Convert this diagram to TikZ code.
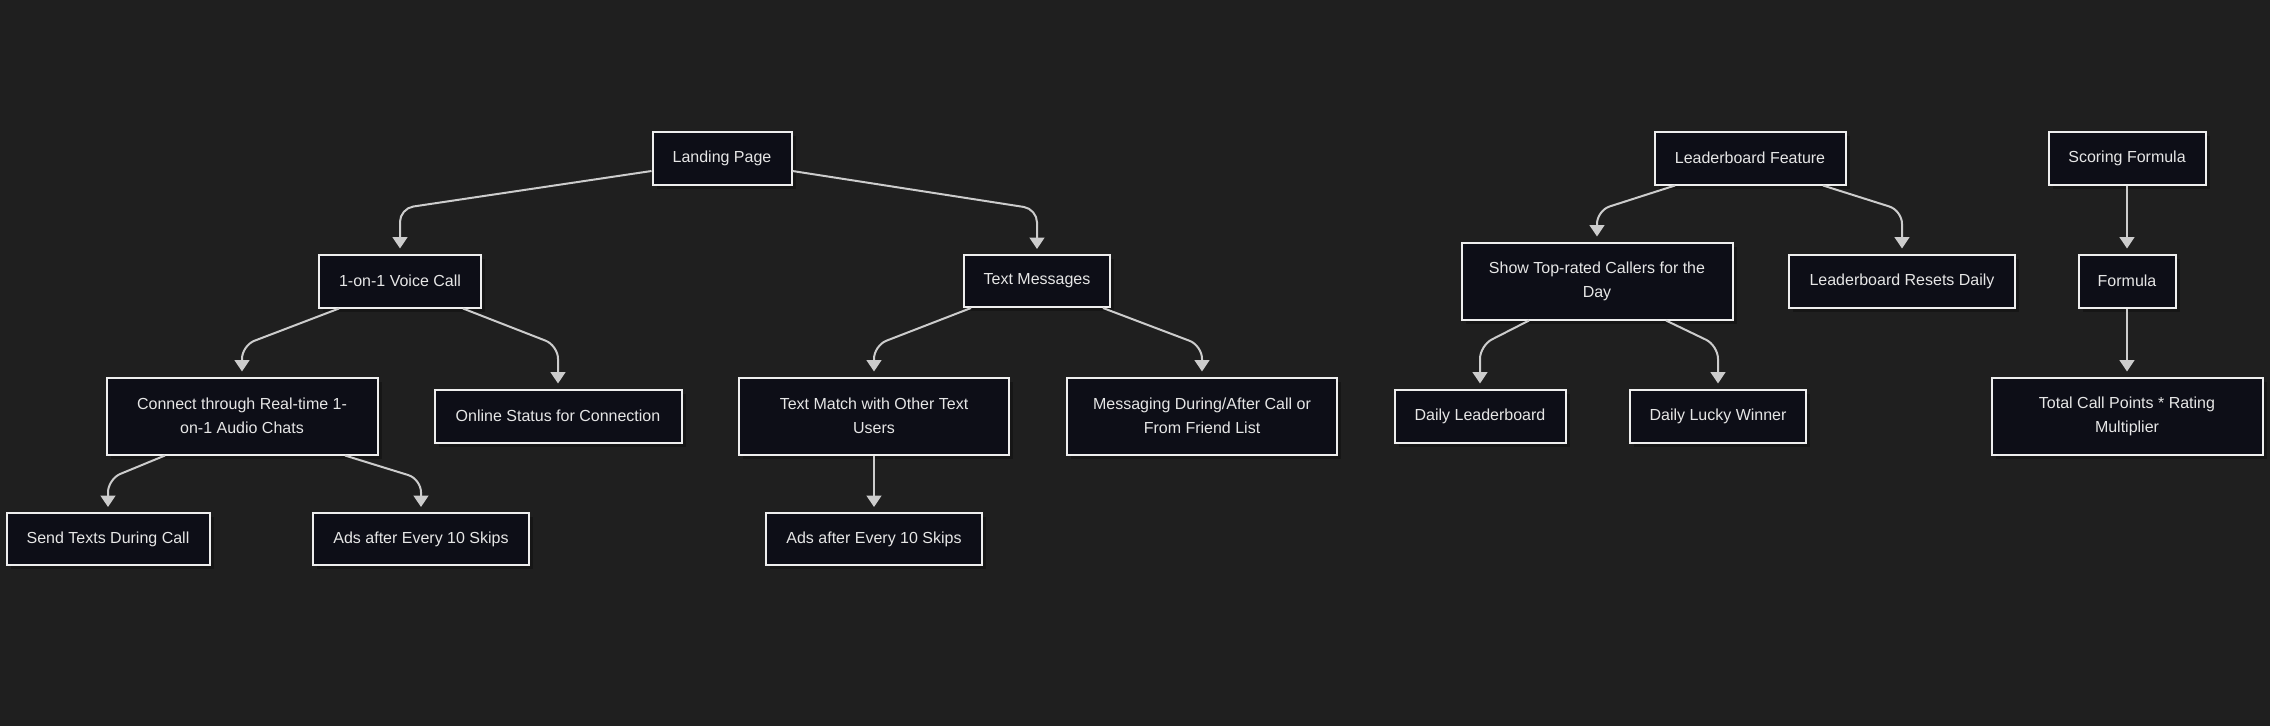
\documentclass[tikz,border=0pt]{standalone}
\usepackage{fontspec}
\setmainfont{Liberation Sans}
\usetikzlibrary{calc,arrows.meta,shadows}
\definecolor{bgc}{HTML}{1F1F1F}
\definecolor{nodefill}{HTML}{0D0E17}
\definecolor{nodeborder}{HTML}{EEEEEE}
\definecolor{edgec}{HTML}{CCCCCC}
\definecolor{textc}{HTML}{E6E6E6}
\definecolor{shadowc}{HTML}{161616}
\tikzset{
  box/.style={draw=nodeborder, fill=nodefill, line width=1.5pt, text=textc,
    align=center, inner sep=0pt, font=\fontsize{12}{18}\selectfont,
    drop shadow={fill=shadowc, opacity=1, shadow xshift=3pt, shadow yshift=-3pt}},
  wh/.style 2 args={minimum width={#1*0.75pt}, minimum height={#2*0.75pt}},
  edge/.style={draw=edgec, line width=1.5pt, rounded corners=10pt,
    -{Triangle[length=8.5pt,width=11pt]}}
}
\begin{document}
\begin{tikzpicture}[x=0.75pt,y=-0.75pt]
\fill[bgc] (0,0) rectangle (2270,726);
\useasboundingbox (0,0) rectangle (2270,726);
% nodes
\node[box, wh={139}{53}] (lp) at (722,158) {Landing Page};
\node[box, wh={162}{53}] (voice) at (400,281) {1-on-1 Voice Call};
\node[box, wh={271}{77}] (connect) at (242,416) {Connect through Real-time 1-\\on-1 Audio Chats};
\node[box, wh={247}{53}] (online) at (558,416) {Online Status for Connection};
\node[box, wh={203}{52}] (send) at (108,539) {Send Texts During Call};
\node[box, wh={216}{52}] (ads1) at (421,539) {Ads after Every 10 Skips};
\node[box, wh={146}{52}] (textm) at (1037,281) {Text Messages};
\node[box, wh={270}{77}] (match) at (874,416) {Text Match with Other Text\\Users};
\node[box, wh={270}{77}] (msg) at (1202,416) {Messaging During/After Call or\\From Friend List};
\node[box, wh={216}{52}] (ads2) at (874,539) {Ads after Every 10 Skips};
\node[box, wh={191}{53}] (lf) at (1750,158) {Leaderboard Feature};
\node[box, wh={157}{53}] (score) at (2127,158) {Scoring Formula};
\node[box, wh={271}{77}] (show) at (1597,281) {Show Top-rated Callers for the\\Day};
\node[box, wh={226}{53}] (resets) at (1902,281) {Leaderboard Resets Daily};
\node[box, wh={97}{53}] (formula) at (2127,281) {Formula};
\node[box, wh={171}{53}] (dlb) at (1480,416) {Daily Leaderboard};
\node[box, wh={176}{53}] (lucky) at (1718,416) {Daily Lucky Winner};
\node[box, wh={271}{77}] (total) at (2127,416) {Total Call Points * Rating\\Multiplier};
% edges
\draw[edge] ($(lp.west)+(0,13)$) -- ($(voice.north)+(0,-45)$) -- ($(voice.north)+(0,-5)$);
\draw[edge] ($(lp.east)+(0,13)$) -- ($(textm.north)+(0,-45)$) -- ($(textm.north)+(0,-5)$);
\draw[edge] ($(voice.south)+(-61,0)$) -- ($(connect.north)+(0,-31)$) -- ($(connect.north)+(0,-5)$);
\draw[edge] ($(voice.south)+(63,0)$) -- ($(online.north)+(0,-43)$) -- ($(online.north)+(0,-5)$);
\draw[edge] ($(connect.south)+(-77,0)$) -- ($(send.north)+(0,-33)$) -- ($(send.north)+(0,-5)$);
\draw[edge] ($(connect.south)+(103,0)$) -- ($(ads1.north)+(0,-33)$) -- ($(ads1.north)+(0,-5)$);
\draw[edge] ($(textm.south)+(-66,0)$) -- ($(match.north)+(0,-31)$) -- ($(match.north)+(0,-5)$);
\draw[edge] ($(textm.south)+(66,0)$) -- ($(msg.north)+(0,-31)$) -- ($(msg.north)+(0,-5)$);
\draw[edge] (match.south) -- ($(ads2.north)+(0,-5)$);
\draw[edge] ($(lf.south)+(-75,0)$) -- ($(show.north)+(0,-31)$) -- ($(show.north)+(0,-5)$);
\draw[edge] ($(lf.south)+(73,0)$) -- ($(resets.north)+(0,-43)$) -- ($(resets.north)+(0,-5)$);
\draw[edge] (score.south) -- ($(formula.north)+(0,-5)$);
\draw[edge] ($(show.south)+(-68,0)$) -- ($(dlb.north)+(0,-43)$) -- ($(dlb.north)+(0,-5)$);
\draw[edge] ($(show.south)+(69,0)$) -- ($(lucky.north)+(0,-43)$) -- ($(lucky.north)+(0,-5)$);
\draw[edge] (formula.south) -- ($(total.north)+(0,-5)$);
\end{tikzpicture}
\end{document}
